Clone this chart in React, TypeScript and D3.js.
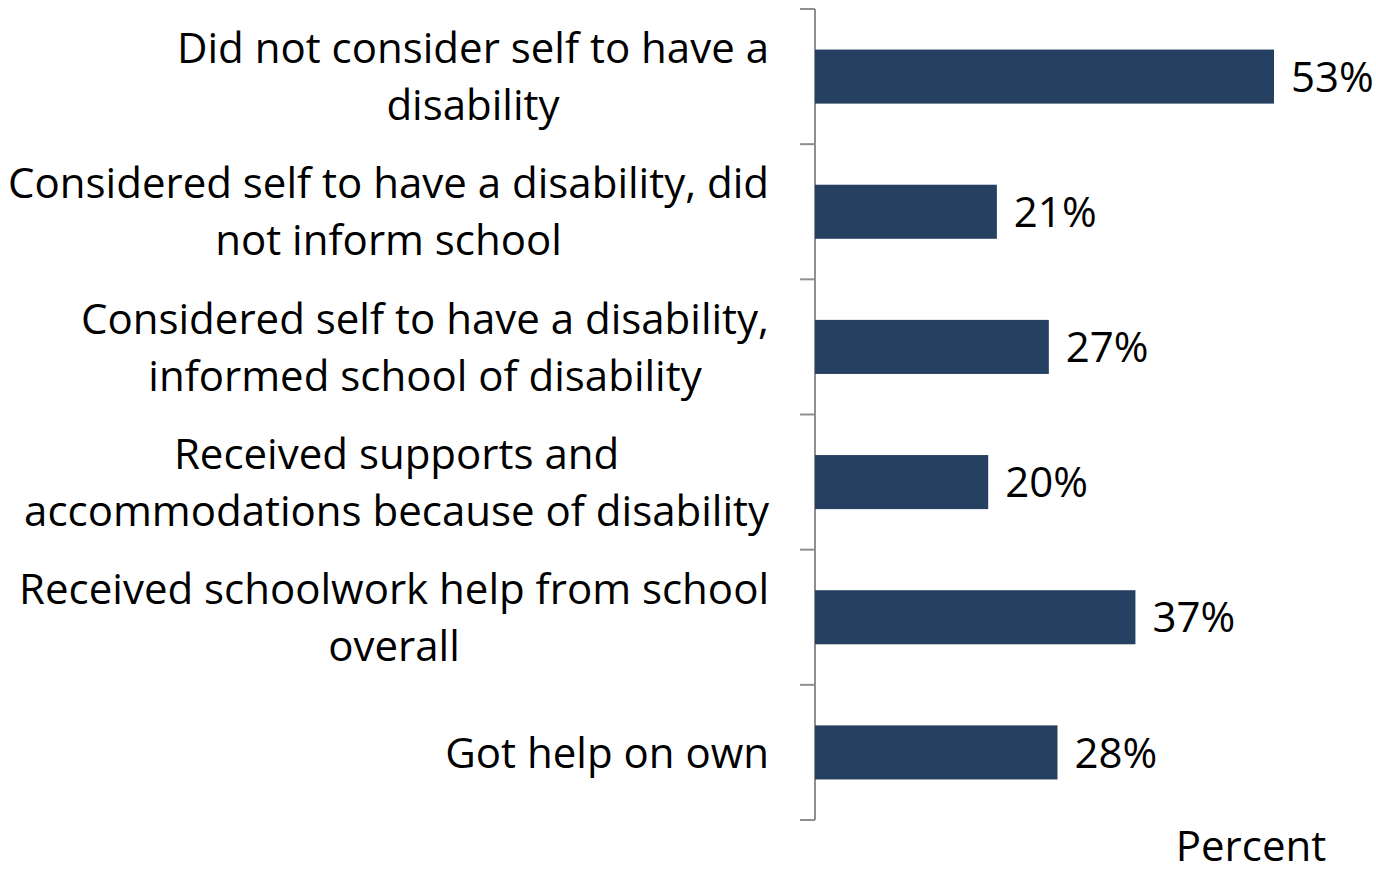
import React from "react";
import * as d3 from "d3";

const categories: string[][] = [
  ["Did not consider self to have a", "disability"],
  ["Considered self to have a disability, did", "not inform school"],
  ["Considered self to have a disability,", "informed school of disability"],
  ["Received supports and", "accommodations because of disability"],
  ["Received schoolwork help from school", "overall"],
  ["Got help on own"],
];
const values: number[] = [53, 21, 27, 20, 37, 28];
const axisTitle = "Percent";

const W = 1376;
const H = 875;
const FONT = "'Open Sans', sans-serif";
const FS = 42;
const LINE = 57;

function measure(text: string): number {
  const c = document.createElement("canvas").getContext("2d");
  if (!c) return text.length * FS * 0.5;
  c.font = `${FS}px 'Open Sans'`;
  return c.measureText(text).width;
}

export default function App() {
  const ids = categories.map((_, i) => String(i));
  const y = d3.scaleBand<string>().domain(ids).range([9, 820]).paddingInner(0.6).paddingOuter(0.3);
  const x = d3.scaleLinear().domain([0, 53]).range([815, 1274]);
  const tickYs = d3.range(ids.length + 1).map((i) => 9 + i * (811 / ids.length));
  const labelRight = 769;

  return (
    <svg width={W} height={H} style={{ position: "absolute", left: 0, top: 0, background: "#fff" }} fontFamily={FONT}>
      <line x1={815} x2={815} y1={9} y2={820} stroke="#8f8f8f" strokeWidth={2} />
      {tickYs.map((ty, i) => (
        <line key={i} x1={800} x2={815} y1={ty} y2={ty} stroke="#8f8f8f" strokeWidth={2} />
      ))}
      {ids.map((id, i) => {
        const yb = y(id)!;
        const bw = y.bandwidth();
        const cy = yb + bw / 2;
        const lines = categories[i];
        const maxW = Math.max(...lines.map(measure));
        const cx = labelRight - maxW / 2;
        const firstBase = cy - ((lines.length - 1) * LINE) / 2 + FS * 0.36;
        return (
          <g key={id}>
            <rect x={x(0)} y={yb} width={x(values[i]) - x(0)} height={bw} fill="#264061" />
            <text x={x(values[i]) + 17} y={cy + FS * 0.36} fontSize={FS} fill="#000">
              {values[i]}%
            </text>
            {lines.map((ln, j) => (
              <text key={j} x={cx} y={firstBase + j * LINE} fontSize={FS} textAnchor="middle" fill="#000">
                {ln}
              </text>
            ))}
          </g>
        );
      })}
      <text x={1251} y={861} fontSize={FS} textAnchor="middle" fill="#000">
        {axisTitle}
      </text>
    </svg>
  );
}
